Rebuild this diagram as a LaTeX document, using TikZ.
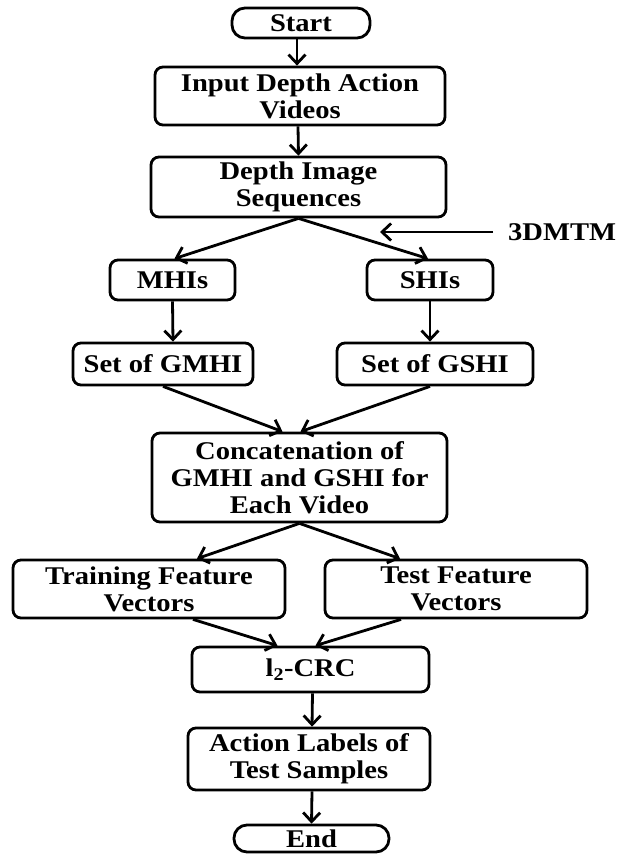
\documentclass[tikz,border=0pt]{standalone}
\usepackage{fontspec}
\setmainfont{Liberation Serif}[FakeStretch=1.12]
\usetikzlibrary{arrows.meta}
\begin{document}
\begin{tikzpicture}[x=1pt,y=-1pt,
  box/.style={draw, line width=2.8pt, rounded corners=8pt, inner sep=0pt, align=center,
    font={\fontsize{25.5}{27}\selectfont\bfseries}},
  term/.style={box, rounded corners=13pt},
  conn/.style={line width=2.8pt, -{Straight Barb[length=9pt,width=17pt]}},
  lbl/.style={inner sep=0pt, font={\fontsize{25.5}{27}\selectfont\bfseries}}
]
\fill[white] (0,0) rectangle (620,856);
\useasboundingbox (0,0) rectangle (620,856);

\node[term, minimum width=138pt, minimum height=30pt] (start) at (301,23) {Start};
\node[box, minimum width=290pt, minimum height=58pt] (input) at (300,96) {Input Depth Action\\Videos};
\node[box, minimum width=295pt, minimum height=60pt] (dis) at (298.5,187) {Depth Image\\Sequences};
\node[box, minimum width=125pt, minimum height=40pt] (mhi) at (172.5,280) {MHIs};
\node[box, minimum width=126pt, minimum height=40pt] (shi) at (430,280) {SHIs};
\node[box, minimum width=180pt, minimum height=42pt] (gmhi) at (163,364) {Set of GMHI};
\node[box, minimum width=196pt, minimum height=42pt] (gshi) at (435,364) {Set of GSHI};
\node[box, minimum width=295pt, minimum height=89pt] (concat) at (299.5,477.5) {Concatenation of\\GMHI and GSHI for\\Each Video};
\node[box, minimum width=272pt, minimum height=58pt] (train) at (149,589) {Training Feature\\Vectors};
\node[box, minimum width=262pt, minimum height=58pt] (test) at (456,589) {Test Feature\\Vectors};
\node[box, minimum width=237pt, minimum height=45pt] (l2) at (310.5,669.5) {l\textsubscript{2}-CRC};
\node[box, minimum width=242pt, minimum height=62pt] (act) at (309,759) {Action Labels of\\Test Samples};
\node[term, minimum width=155pt, minimum height=27pt] (end) at (311.5,838.5) {End};

\node[lbl, anchor=west] (tdm) at (508,232) {3DMTM};
\coordinate (tdmend) at (380,232);

\draw[conn] ([xshift=-4pt]start.south) -- ([xshift=-3pt]input.north);
\draw[conn] ([xshift=-2pt]input.south) -- (dis.north);
\draw[conn] (dis.south) -- ([xshift=2pt]mhi.north);
\draw[conn] (dis.south) -- ([xshift=-2pt]shi.north);
\draw[conn] (mhi.south) -- ([xshift=10pt]gmhi.north);
\draw[conn] (shi.south) -- ([xshift=-5pt]gshi.north);
\draw[conn] (gmhi.south) -- ([xshift=-17pt]concat.north);
\draw[conn] ([xshift=-5pt]gshi.south) -- ([xshift=1pt]concat.north);
\draw[conn] (concat.south) -- ([xshift=48pt]train.north);
\draw[conn] (concat.south) -- ([xshift=-56pt]test.north);
\draw[conn] ([xshift=44pt]train.south) -- ([xshift=-33pt]l2.north);
\draw[conn] ([xshift=-55pt]test.south) -- ([xshift=5pt]l2.north);
\draw[conn] ([xshift=2pt]l2.south) -- ([xshift=3pt]act.north);
\draw[conn] ([xshift=3pt]act.south) -- (end.north);
\draw[conn] ([xshift=-15pt]tdm.west) -- (tdmend);
\end{tikzpicture}
\end{document}
